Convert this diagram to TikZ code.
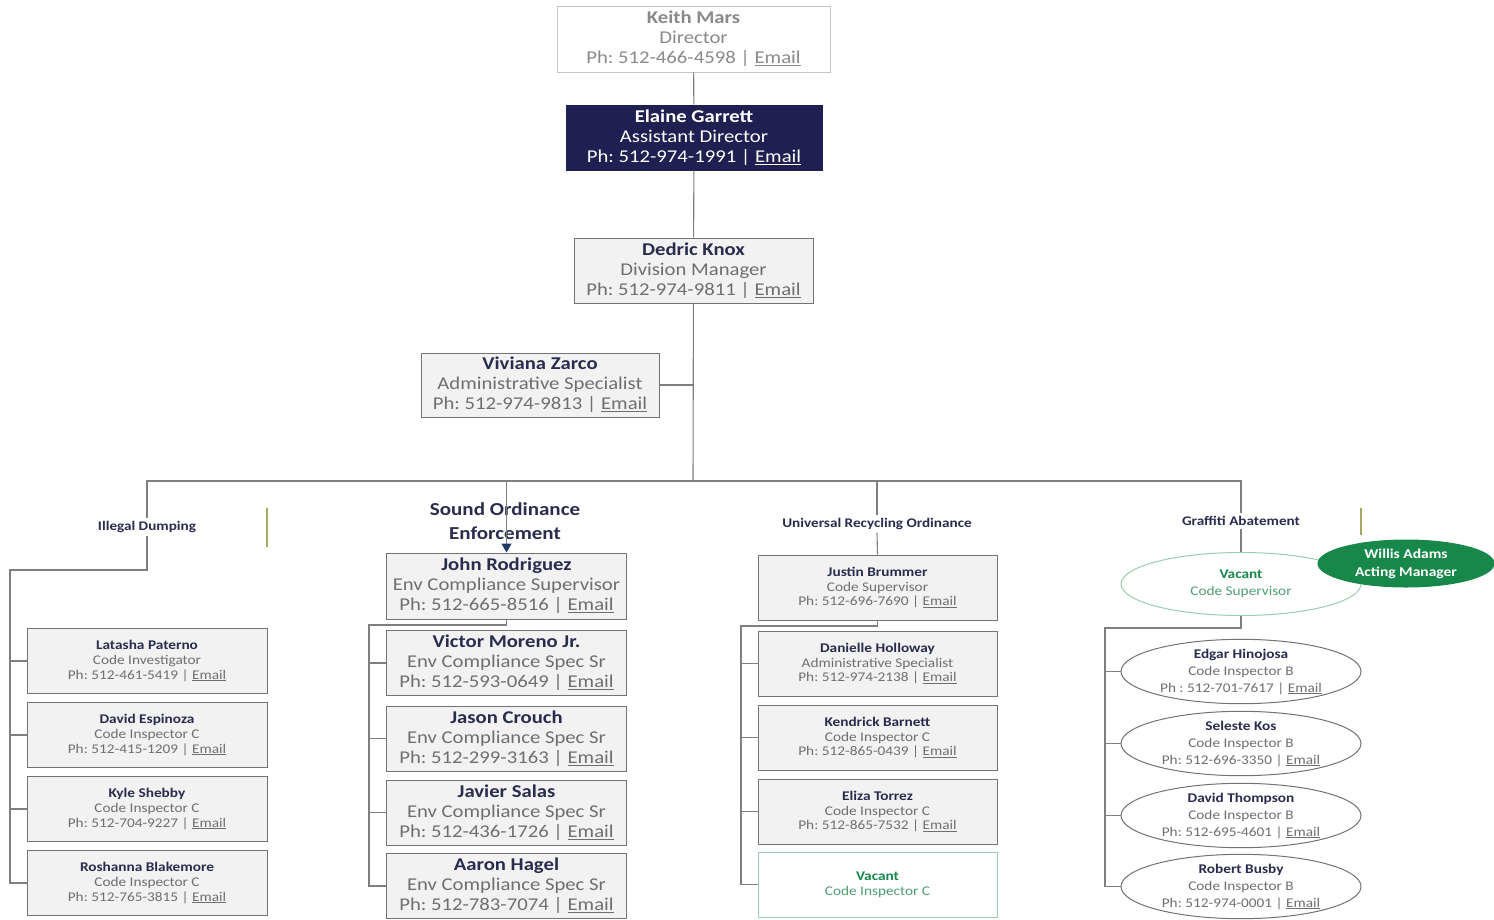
\documentclass[tikz,border=0pt]{standalone}
\usepackage{fontspec}
\setmainfont{Carlito}[FakeStretch=1.15]
\usetikzlibrary{shapes.geometric,arrows.meta}

\definecolor{namec}{HTML}{2A2C4E}
\definecolor{txtc}{HTML}{6F6F6F}
\definecolor{linec}{HTML}{7F7F7F}
\definecolor{boxc}{HTML}{F2F2F2}
\definecolor{edgec}{HTML}{737373}
\definecolor{keithc}{HTML}{8A8A8A}
\definecolor{keithb}{HTML}{C4C4C4}
\definecolor{navyc}{HTML}{1D2050}
\definecolor{arrc}{HTML}{1F3A64}
\definecolor{greenc}{HTML}{17874A}
\definecolor{vactc}{HTML}{4E9E72}
\definecolor{vacb}{HTML}{9BCDB0}
\definecolor{olivec}{HTML}{A8A860}

% name, title, phone line
\newcommand{\pcard}[4][namec]{\textcolor{#1}{\bfseries #2}\\#3\\#4 | \underline{Email}}

\begin{document}
\frenchspacing
\begin{tikzpicture}[x=1pt, y=-1pt,
  conn/.style = {draw=linec, line width=1.1pt},
  bigbox/.style = {draw=edgec, fill=boxc, line width=1pt, inner sep=0pt,
    minimum width=240pt, minimum height=65pt, align=center, text=txtc,
    font=\fontsize{18}{20}\selectfont},
  smallbox/.style = {bigbox, font=\fontsize{13.3}{14.6}\selectfont},
  oval/.style = {shape=ellipse, draw=edgec, fill=white, line width=1pt, inner sep=0pt,
    minimum width=240pt, minimum height=64pt, align=center, text=txtc,
    font=\fontsize{13.3}{17}\selectfont},
  sect/.style = {text=namec, align=center, inner sep=3pt,
    font=\bfseries\fontsize{13.2}{15}\selectfont}]
  \useasboundingbox (0,0) rectangle (1494,919);

  % management chain
  \node[bigbox, draw=keithb, fill=white, text=keithc, minimum width=273pt, minimum height=66pt]
    (km) at (693.5,39) {\pcard[keithc]{Keith Mars}{Director}{Ph: 512-466-4598}};
  \node[bigbox, draw=navyc, fill=navyc, text=white, minimum width=256pt]
    (eg) at (694,137.5) {\pcard[white]{Elaine Garrett}{Assistant Director}{Ph: 512-974-1991}};
  \node[bigbox, minimum width=239pt] (dk) at (693.5,270.5)
    {\pcard{Dedric Knox}{Division Manager}{Ph: 512-974-9811}};
  \node[bigbox, minimum width=238pt, minimum height=64pt] (vz) at (540,385)
    {\pcard{Viviana Zarco}{Administrative Specialist}{Ph: 512-974-9813}};
  \coordinate (hub) at (693,481);

  % section labels
  \node[sect] (idl) at (147,527) {Illegal Dumping};
  \node[sect, font=\bfseries\fontsize{18.3}{24}\selectfont] (sol) at (505,521) {Sound Ordinance\\Enforcement};
  \node[sect] (url) at (877,524) {Universal Recycling Ordinance};
  \node[sect] (gal) at (1241,521) {Graffiti Abatement};

  % illegal dumping
  \node[smallbox] (lp) at (147,661) {\pcard{Latasha Paterno}{Code Investigator}{Ph: 512-461-5419}};
  \node[smallbox] (de) at (147,735) {\pcard{David Espinoza}{Code Inspector C}{Ph: 512-415-1209}};
  \node[smallbox] (ks) at (147,809) {\pcard{Kyle Shebby}{Code Inspector C}{Ph: 512-704-9227}};
  \node[smallbox] (rbl) at (147,883) {\pcard{Roshanna Blakemore}{Code Inspector C}{Ph: 512-765-3815}};
  \coordinate (idj) at (10,570);

  % sound ordinance
  \node[bigbox, minimum height=66pt] (jr) at (506.5,586)
    {\pcard{John Rodriguez}{Env Compliance Supervisor}{Ph: 512-665-8516}};
  \node[bigbox] (vm) at (506.5,663) {\pcard{Victor Moreno Jr.}{Env Compliance Spec Sr}{Ph: 512-593-0649}};
  \node[bigbox] (jc) at (506.5,738.5) {\pcard{Jason Crouch}{Env Compliance Spec Sr}{Ph: 512-299-3163}};
  \node[bigbox] (js) at (506.5,812.5) {\pcard{Javier Salas}{Env Compliance Spec Sr}{Ph: 512-436-1726}};
  \node[bigbox] (ah) at (506.5,886) {\pcard{Aaron Hagel}{Env Compliance Spec Sr}{Ph: 512-783-7074}};
  \coordinate (soj) at (369,625);

  % universal recycling
  \node[smallbox, minimum width=239pt] (jb) at (877.5,587.5) {\pcard{Justin Brummer}{Code Supervisor}{Ph: 512-696-7690}};
  \node[smallbox, minimum width=239pt] (dh) at (877.5,663.5) {\pcard{Danielle Holloway}{Administrative Specialist}{Ph: 512-974-2138}};
  \node[smallbox, minimum width=239pt] (kb) at (877.5,737.5) {\pcard{Kendrick Barnett}{Code Inspector C}{Ph: 512-865-0439}};
  \node[smallbox, minimum width=239pt] (et) at (877.5,811.5) {\pcard{Eliza Torrez}{Code Inspector C}{Ph: 512-865-7532}};
  \node[smallbox, minimum width=239pt, draw=vacb, fill=white, text=vactc] (vc) at (877.5,884.5)
    {\textcolor{greenc}{\bfseries Vacant}\\Code Inspector C};
  \coordinate (urj) at (741,626);

  % graffiti abatement
  \node[oval, draw=vacb, text=vactc, minimum height=63pt] (vs) at (1241,584)
    {\textcolor{greenc}{\bfseries Vacant}\\Code Supervisor};
  \node[oval, draw=greenc, fill=greenc, text=white, minimum width=176pt, minimum height=47pt,
    font=\bfseries\fontsize{13.5}{18}\selectfont] (wa) at (1406,563.5) {Willis Adams\\Acting Manager};
  \node[oval] (eh) at (1241,671.5) {\pcard{Edgar Hinojosa}{Code Inspector B}{Ph : 512-701-7617}};
  \node[oval] (sk) at (1241,743.5) {\pcard{Seleste Kos}{Code Inspector B}{Ph: 512-696-3350}};
  \node[oval] (dt) at (1241,815.5) {\pcard{David Thompson}{Code Inspector B}{Ph: 512-695-4601}};
  \node[oval] (rb) at (1241,886.5) {\pcard{Robert Busby}{Code Inspector B}{Ph: 512-974-0001}};
  \coordinate (gaj) at (1105,628);

  % connectors
  \draw[conn] (km) -- (eg);
  \draw[conn] (eg) -- (dk);
  \draw[conn] (dk) -- (hub);
  \draw[conn] (vz.east) -- (vz.east -| hub);
  \draw[conn] (idl.north) |- (hub) -| (gal.north);
  \draw[conn] (url.north) -- (url.north |- hub);
  \draw[conn, -{Triangle[width=10pt, length=9pt, color=arrc]}] (jr.north |- hub) -- (jr.north);
  \draw[conn] (url.south) -- (jb.north);
  \draw[conn] (gal.south) -- (vs.north);

  \draw[conn] (idl.south) |- (idj) |- (rbl.west);
  \foreach \b in {lp,de,ks} \draw[conn] (idj |- \b.west) -- (\b.west);
  \draw[conn] (jr.south) |- (soj) |- (ah.west);
  \foreach \b in {vm,jc,js} \draw[conn] (soj |- \b.west) -- (\b.west);
  \draw[conn] (jb.south) |- (urj) |- (vc.west);
  \foreach \b in {dh,kb,et} \draw[conn] (urj |- \b.west) -- (\b.west);
  \draw[conn] (vs.south) |- (gaj) |- (rb.west);
  \foreach \b in {eh,sk,dt} \draw[conn] (gaj |- \b.west) -- (\b.west);

  % stray marks
  \draw[olivec, line width=1.5pt] (267,508) -- (267,547);
  \draw[olivec, line width=1.5pt] (1361,508) -- (1361,535);
\end{tikzpicture}
\end{document}
